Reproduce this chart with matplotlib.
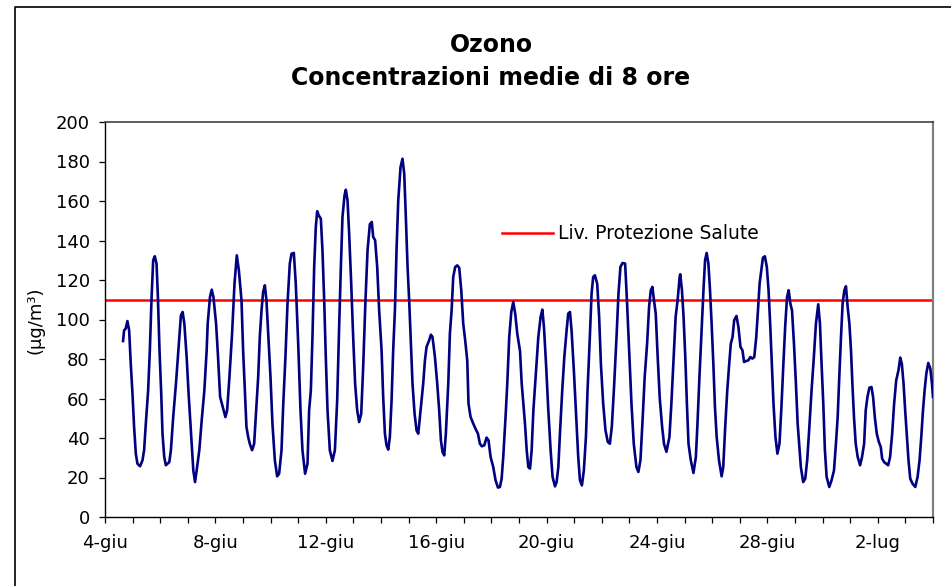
import matplotlib
matplotlib.use("Agg")
import matplotlib.pyplot as plt
from matplotlib.lines import Line2D

# ore dalle 00:00 del 4 giugno, medie mobili di 8 ore (ug/m3)
ore = [
    15.7, 16.6, 18.0, 19.5, 21.0, 22.4, 23.9, 25.3, 26.8, 28.2, 30.5, 32.6, 34.0, 35.5, 37.5,
    39.0, 40.4, 41.9, 43.3, 44.8, 46.0, 47.4, 48.9, 50.0, 51.5, 52.9, 55.9, 57.3, 59.3, 61.7,
    64.6, 66.0, 67.5, 69.0, 71.0, 72.7, 74.8, 76.8, 78.3, 79.7, 82.0, 84.1, 86.4, 88.4, 89.3,
    91.3, 92.8, 94.3, 96.6, 98.3, 100.1, 102.4, 104.7, 106.2, 108.2, 110.5, 112.6, 114.6, 116.4,
    118.7, 120.1, 121.6, 123.0, 124.5, 125.9, 127.9, 129.7, 131.1, 133.2, 134.6, 136.1, 137.5,
    139.0, 140.4, 141.9, 143.9, 145.6, 147.7, 149.7, 151.4, 153.5, 154.9, 156.9, 158.7, 160.7,
    162.2, 164.2, 165.9, 168.0, 170.0, 171.7, 174.0, 176.1, 177.5, 179.0, 180.4, 181.9, 183.3,
    184.5, 185.9, 187.7, 189.1, 190.6, 192.0, 193.5, 195.5, 197.8, 199.9, 201.9, 203.6, 205.1,
    206.5, 208.3, 209.4, 210.9, 212.3, 214.1, 215.8, 217.5, 219.3, 221.0, 222.8, 224.5, 226.5,
    228.3, 230.3, 232.0, 233.2, 234.9, 236.7, 238.4,
    240.5, 241.9, 243.4, 244.8, 246.3, 247.7, 249.2, 250.6, 252.1, 253.5, 255.0, 257.0, 258.7,
    260.2, 261.6, 263.1, 264.5, 266.0, 267.4, 269.2, 270.9, 272.4, 273.8, 275.5, 276.7, 278.2,
    279.6, 281.9, 283.4, 284.8, 286.9, 288.9, 290.6, 292.1, 293.5, 295.0, 296.4, 298.5, 299.9,
    301.4, 302.8, 304.5, 306.3, 308.0, 309.8, 311.5, 313.2, 315.0, 316.1, 317.9, 320.2, 322.2,
    324.3, 326.0, 327.7, 329.8, 331.8, 333.5, 335.3, 337.6, 339.6, 341.7, 343.4, 344.9, 346.3,
    348.3, 349.8, 351.5, 353.3, 355.0, 356.7, 358.5,
    360.9, 362.3, 363.8, 365.2, 366.7, 368.1, 369.6, 371.0, 372.5, 374.5, 376.8, 378.8, 380.3,
    381.7, 383.5, 385.5, 387.5, 389.2, 391.3, 392.7, 394.2, 395.6, 397.6, 399.4, 401.4, 402.8,
    404.3, 405.7, 407.7, 409.5, 411.5, 413.0, 414.7, 416.4, 418.2, 419.6, 421.6, 423.1, 424.5,
    426.0, 428.0, 429.7, 431.2, 433.2, 435.2, 437.2, 439.0, 440.7, 442.5, 444.8, 446.5, 448.2,
    450.0, 452.3, 454.0, 455.8, 457.8, 459.8, 462.1, 463.8, 465.6, 467.3, 469.3, 471.4, 473.1,
    474.6, 476.0, 477.4, 478.9, 480.6, 482.4, 484.4, 486.1, 488.2,
    490.8, 492.5, 494.5, 496.2, 497.9, 499.7, 500.2, 501.7, 503.1, 504.6, 506.0, 507.4, 509.4,
    511.7, 513.8, 515.2, 516.9, 518.6, 520.4, 521.8, 523.2, 524.7, 526.1, 527.5, 529.0, 530.4,
    531.9, 533.9, 536.2, 537.6, 539.3, 541.1, 542.8, 544.2, 545.7, 547.1, 549.1, 550.8, 552.6,
    554.3, 555.7, 557.7, 559.4, 561.2, 562.9, 564.6, 566.3, 567.8, 569.2, 570.7, 572.1, 573.8,
    575.5, 577.0, 578.4, 579.9, 581.3, 583.0, 584.7, 586.5, 588.2, 589.9, 591.6, 593.1, 594.5,
    596.0, 597.4, 599.1, 600.8, 602.3,
    605.1, 607.1, 608.9, 610.6, 612.3, 614.4, 616.4, 618.2, 620.2, 621.7, 623.1, 624.6, 626.0,
    627.5, 629.8, 631.8, 633.9, 635.6, 637.1, 638.5, 640.0, 641.4, 642.9, 644.3, 645.8, 647.3,
    648.7, 649.9, 651.3, 652.8, 654.5, 656.6, 658.3, 660.1, 661.5, 663.0, 664.7, 666.5, 667.9,
    669.4, 671.1, 672.9, 674.6, 675.8, 677.5, 679.3, 681.0, 682.7, 684.5, 686.2, 688.0, 690.0,
    691.5, 692.9, 694.4, 695.8, 697.3, 698.7, 700.2, 702.2, 704.6, 706.6, 708.3, 709.8, 711.3,
    712.7, 714.2, 715.9, 717.7, 719.1, 720.0,
]
ozono = [
    89.1, 94.5, 95.4, 99.2, 94.5, 77.6, 62.4, 45.6, 32.0, 27.0, 25.7, 28.7, 33.8, 47.3, 64.0,
    84.4, 109.7, 130.0, 132.0, 128.3, 111.4, 84.4, 62.4, 42.2, 30.4, 26.2, 27.8, 33.8, 50.6, 67.5,
    91.1, 102.0, 103.8, 97.9, 81.0, 62.4, 42.2, 23.6, 17.7, 23.6, 33.8, 49.0, 64.1, 84.4, 97.9,
    111.4, 115.1, 111.4, 97.9, 81.0, 60.8, 55.7, 50.6, 54.0, 70.9, 92.8, 118.1, 132.5, 124.9,
    109.7, 84.4, 64.1, 45.6, 40.5, 37.1, 33.8, 37.1, 50.6, 70.9, 91.1, 104.6, 113.9,
    117.3, 109.7, 92.8, 70.9, 47.3, 28.7, 20.6, 21.9, 33.8, 55.7, 81.0, 108.0, 128.3,
    133.3, 133.7, 118.1, 87.8, 54.0, 33.8, 21.9, 27.0, 54.0, 64.1, 91.1, 126.6, 146.8,
    154.8, 152.7, 151.0, 135.0, 109.7, 81.0, 54.0, 33.8, 28.4, 33.8, 59.1, 96.2, 126.6,
    151.9, 162.9, 165.7, 160.3, 143.5, 118.1, 91.1, 67.5, 54.0, 48.1, 52.3, 75.9, 109.7,
    135.0, 148.2, 149.4, 141.8, 140.1, 126.6, 104.6,
    84.4, 60.8, 42.2, 36.3, 34.1, 40.5, 59.1, 84.4, 104.6, 135.0, 160.3, 177.2, 181.4,
    173.8, 151.9, 126.6, 109.7, 87.8, 67.5, 52.3, 43.9, 42.2, 50.6, 60.8, 67.5, 79.3,
    86.1, 89.5, 92.3, 91.1, 81.0, 67.5, 54.0, 38.8, 32.9, 31.2, 42.2, 67.5, 92.8,
    104.6, 121.5, 126.6, 127.4, 126.2, 114.8, 97.9, 89.5, 79.3, 57.4, 50.6, 47.3, 44.7,
    42.2, 37.1, 35.8, 36.3, 40.2, 38.8, 30.4, 25.3, 18.6, 14.9, 15.2, 19.4, 30.4,
    50.6, 67.5, 91.1, 103.8, 108.9, 103.0, 92.8,
    84.0, 68.0, 57.4, 47.3, 33.8, 25.3, 24.5, 33.8, 54.0, 70.9, 91.1, 101.3, 105.0,
    96.2, 77.6, 54.0, 33.8, 20.3, 15.5, 17.7, 25.3, 42.2, 64.1, 81.0, 94.5, 103.0,
    103.8, 94.5, 74.3, 54.0, 30.4, 18.6, 16.0, 23.6, 40.5, 64.1, 91.1, 113.1, 121.5,
    122.4, 118.1, 101.3, 77.6, 57.4, 43.9, 38.0, 37.1, 45.6, 64.1, 91.1, 113.1, 126.6,
    128.6, 128.3, 108.0, 84.4, 57.4, 37.1, 25.3, 22.8, 28.7, 47.3, 70.9, 87.8, 106.3,
    114.8, 116.5, 109.7, 103.0, 81.0, 60.0, 46.0, 37.0, 33.0,
    40.5, 57.4, 81.0, 101.3, 109.7, 121.5, 122.9, 114.8, 101.3, 81.0, 57.4, 37.1, 28.7,
    22.3, 30.4, 47.3, 70.9, 92.8, 114.8, 130.0, 133.7, 128.3, 114.8, 97.9, 77.6, 55.7,
    40.5, 28.7, 20.6, 25.3, 45.6, 64.1, 77.6, 87.8, 91.1, 99.6, 101.8, 96.2, 86.1,
    84.4, 78.5, 79.0, 79.3, 81.0, 80.2, 81.0, 91.1, 104.6, 118.1, 124.9, 131.3, 132.0,
    126.6, 114.8, 97.9, 77.6, 57.4, 40.5, 32.1, 37.1, 55.7, 77.6, 97.9, 111.4, 114.8,
    108.0, 104.6, 87.8, 67.5, 47.3,
    25.3, 17.7, 19.4, 28.7, 43.9, 64.1, 81.0, 97.9, 107.7, 97.9, 77.6, 57.4, 33.8,
    20.3, 15.2, 18.6, 23.6, 37.1, 50.6, 70.9, 91.1, 108.0, 114.8, 116.8, 106.3, 97.9,
    84.4, 67.5, 50.6, 37.1, 30.4, 26.2, 30.4, 37.1, 54.0, 60.8, 65.5, 65.8, 60.8,
    50.6, 42.2, 38.0, 35.4, 29.5, 27.8, 27.0, 26.2, 30.4, 42.2, 57.4, 69.2, 74.3,
    80.7, 77.6, 67.5, 54.0, 40.5, 28.7, 19.4, 16.9, 15.2, 20.3, 28.7, 40.5, 54.0,
    64.1, 72.6, 78.0, 75.1, 67.5, 60.8,
]

soglia = 110  # Liv. Protezione Salute
giorni_tick = [0, 4, 8, 12, 16, 20, 24, 28]
etichette_x = ["4-giu", "8-giu", "12-giu", "16-giu", "20-giu", "24-giu", "28-giu", "2-lug"]

plt.rcParams['font.family'] = ['DejaVu Sans']

W, H = 951, 586
fig = plt.figure(figsize=(W / 100, H / 100), dpi=100)
ax = fig.add_axes([105 / W, 1 - 517 / H, (933 - 105) / W, (517 - 122) / H])

giorni = [h / 24 for h in ore]
ax.plot(giorni, ozono, color='#000080', lw=1.9, solid_joinstyle='round', zorder=3)
ax.axhline(soglia, color='#ff0000', lw=1.8, label="Liv. Protezione Salute", zorder=2)

ax.set_xlim(0, 30)
ax.set_ylim(0, 200)
ax.set_yticks(range(0, 201, 20))
ax.set_xticks(giorni_tick)
ax.set_xticklabels(etichette_x)
ax.set_xticks(range(0, 31), minor=True)
ax.tick_params(axis='both', which='both', direction='out', length=4.5, width=0.9,
               labelsize=13, colors='black')
ax.tick_params(axis='y', pad=6.5)
ax.tick_params(axis='x', which='major', pad=8)

for s in ['left', 'bottom']:
    ax.spines[s].set_color('black')
    ax.spines[s].set_linewidth(1.0)
ax.spines['top'].set_color('#404040')
ax.spines['top'].set_linewidth(1.2)
ax.spines['right'].set_color('#808080')
ax.spines['right'].set_linewidth(1.6)

ax.legend(loc='center left', bbox_to_anchor=(502 / W, 1 - 234 / H),
          bbox_transform=fig.transFigure, frameon=False, fontsize=13.5,
          handlelength=2.7, handletextpad=0.3, borderpad=0, borderaxespad=0)

fig.text(491 / W, 1 - 45 / H, "Ozono", ha='center', va='center',
         fontsize=17, fontweight='bold')
fig.text(491 / W, 1 - 78 / H, "Concentrazioni medie di 8 ore", ha='center', va='center',
         fontsize=17, fontweight='bold')
fig.text(35 / W, 1 - 320 / H, "(µg/m³)", ha='center', va='center', rotation=90, fontsize=13)

# cornice esterna del grafico
fig.add_artist(Line2D([15 / W, 15 / W, 1.0], [0.0, 1 - 7 / H, 1 - 7 / H],
                      transform=fig.transFigure, color='black', lw=1.2))

fig.savefig("out.png", dpi=100)
